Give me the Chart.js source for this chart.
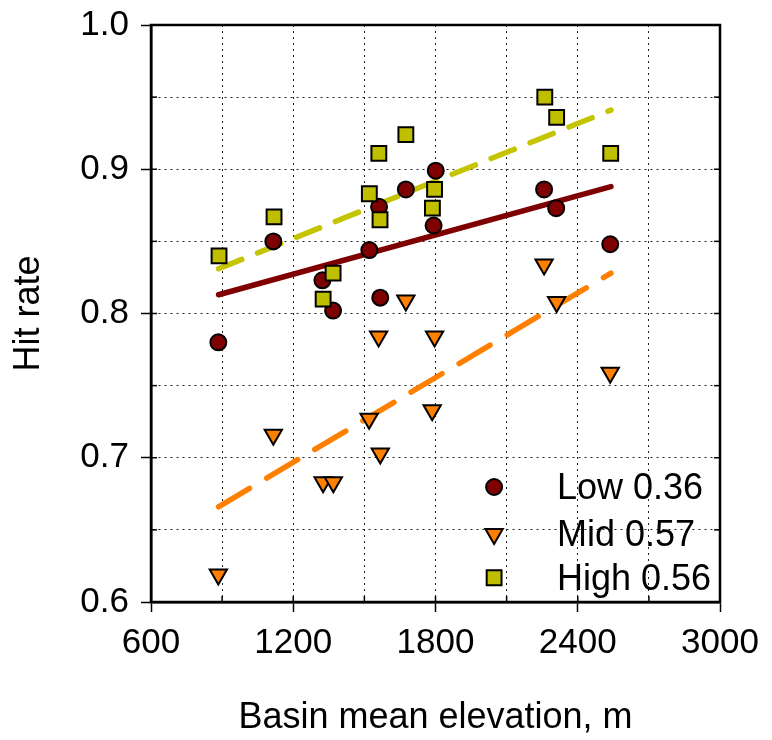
<!DOCTYPE html>
<html>
<head>
<meta charset="utf-8">
<script src="https://cdn.jsdelivr.net/npm/chart.js@4/dist/chart.umd.min.js"></script>
<style>
  body { margin: 0; background: #fff; }
  canvas { display: block; }
</style>
</head>
<body>
<canvas id="myChart" width="772" height="740"></canvas>
<script>
// Basin mean elevation (m) and hit rate for each group
var lowX  = [884, 1116, 1323, 1368, 1521, 1562, 1567, 1675, 1801, 1792, 2258, 2309, 2537];
var lowY  = [0.780, 0.850, 0.823, 0.802, 0.844, 0.874, 0.811, 0.886, 0.899, 0.861, 0.886, 0.873, 0.848];

var midX  = [884, 1116, 1326, 1369, 1520, 1560, 1567, 1675, 1796, 1786, 2258, 2311, 2537];
var midY  = [0.619, 0.716, 0.683, 0.683, 0.727, 0.784, 0.703, 0.809, 0.784, 0.733, 0.834, 0.808, 0.759];

var highX = [887, 1119, 1326, 1368, 1521, 1566, 1561, 1675, 1796, 1787, 2261, 2311, 2539];
var highY = [0.840, 0.867, 0.810, 0.828, 0.883, 0.865, 0.911, 0.924, 0.886, 0.873, 0.950, 0.936, 0.911];

// fitted lines, end points
var trendX     = [885, 2540];
var trendLowY  = [0.813, 0.888];
var trendMidY  = [0.666, 0.828];
var trendHighY = [0.831, 0.941];

var legendLabels = ['Low 0.36', 'Mid 0.57', 'High 0.56'];

var FONT = '"Liberation Sans", Arial, sans-serif';

function pts(xs, ys) {
  return xs.map(function (x, i) { return { x: x, y: ys[i] }; });
}

function isMajorX(v) { return Math.round(v) % 600 === 0; }
function isMajorY(v) { return Math.round(v * 100) % 10 === 0; }

var markerStyles = [
  { style: 'circle',   fill: '#7f0000', r: 8,    rot: 0 },
  { style: 'triangle', fill: '#ff8000', r: 10,   rot: 180 },
  { style: 'rect',     fill: '#bfbf00', r: 10.5, rot: 0 }
];

// frame, inner ticks and the legend inside the plot
var framePlugin = {
  id: 'frame',
  afterDraw: function (chart) {
    var c = chart.ctx, a = chart.chartArea;
    c.save();
    c.strokeStyle = '#000';
    c.lineWidth = 1.5;
    var xs = chart.scales.x, ys = chart.scales.y;
    xs.ticks.forEach(function (t) {
      var px = xs.getPixelForValue(t.value);
      c.beginPath(); c.moveTo(px, a.bottom); c.lineTo(px, a.bottom - 6); c.stroke();
    });
    ys.ticks.forEach(function (t) {
      var py = ys.getPixelForValue(t.value);
      c.beginPath(); c.moveTo(a.left, py); c.lineTo(a.left + 6, py); c.stroke();
      c.beginPath(); c.moveTo(a.right, py); c.lineTo(a.right - 6, py); c.stroke();
    });
    c.lineWidth = 2.5;
    c.strokeRect(a.left, a.top, a.right - a.left, a.bottom - a.top);

    // legend
    var w = a.right - a.left, h = a.bottom - a.top;
    var mx = a.left + 0.603 * w, tx = a.left + 0.7135 * w;
    var rows = [0.8007, 0.882, 0.958];
    c.font = '36px ' + FONT;
    c.textBaseline = 'middle';
    c.textAlign = 'left';
    legendLabels.forEach(function (lab, i) {
      var y = a.top + rows[i] * h;
      var m = markerStyles[i];
      c.fillStyle = m.fill;
      c.strokeStyle = '#000';
      c.lineWidth = 2;
      Chart.helpers.drawPoint(c, { pointStyle: m.style, radius: m.r, rotation: m.rot, borderWidth: 2 }, mx, y);
      c.fillStyle = '#000';
      c.fillText(lab, tx, y + 2);
    });
    c.restore();
  }
};

var ctx = document.getElementById('myChart').getContext('2d');
var myChart = new Chart(ctx, {
  type: 'scatter',
  data: {
    datasets: [
      {
        label: legendLabels[2],
        data: pts(highX, highY),
        pointStyle: 'rect',
        pointRadius: 10.5,
        backgroundColor: '#bfbf00',
        borderColor: '#000',
        borderWidth: 2,
        order: 0
      },
      {
        label: legendLabels[0],
        data: pts(lowX, lowY),
        pointStyle: 'circle',
        pointRadius: 8,
        backgroundColor: '#7f0000',
        borderColor: '#000',
        borderWidth: 2,
        order: 1
      },
      {
        label: legendLabels[1],
        data: pts(midX, midY),
        pointStyle: 'triangle',
        pointRotation: 180,
        pointRadius: 10,
        backgroundColor: '#ff8000',
        borderColor: '#000',
        borderWidth: 2,
        order: 2
      },
      {
        label: 'Low fit',
        data: pts(trendX, trendLowY),
        showLine: true,
        pointRadius: 0,
        borderColor: '#7f0000',
        borderWidth: 5.5,
        borderCapStyle: 'round',
        order: 5
      },
      {
        label: 'Mid fit',
        data: pts(trendX, trendMidY),
        showLine: true,
        pointRadius: 0,
        borderColor: '#ff8000',
        borderWidth: 5.5,
        borderCapStyle: 'round',
        borderDash: [36, 20],
        order: 5
      },
      {
        label: 'High fit',
        data: pts(trendX, trendHighY),
        showLine: true,
        pointRadius: 0,
        borderColor: '#c4c400',
        borderWidth: 5.5,
        borderCapStyle: 'round',
        borderDash: [25, 17],
        order: 5
      }
    ]
  },
  options: {
    responsive: false,
    animation: false,
    layout: { padding: { top: 25, right: 52, left: 0, bottom: 0 } },
    plugins: {
      legend: { display: false },
      tooltip: { enabled: false }
    },
    scales: {
      x: {
        type: 'linear',
        min: 600,
        max: 3000,
        afterFit: function (s) { s.height = 138; s.paddingLeft = 0; s.paddingRight = 0; },
        ticks: {
          stepSize: 300,
          autoSkip: false,
          maxRotation: 0,
          padding: 10,
          color: '#000',
          font: { family: FONT, size: 35 },
          callback: function (v) { return isMajorX(v) ? String(Math.round(v)) : ''; }
        },
        grid: {
          color: '#222',
          lineWidth: 1,
          tickLength: 10,
          tickWidth: 1.5,
          tickBorderDash: [],
          tickColor: function (c) { return c.tick && isMajorX(c.tick.value) ? '#000' : 'rgba(0,0,0,0)'; }
        },
        border: { display: true, color: '#000', width: 2.5, dash: [2, 4] },
        title: {
          display: true,
          text: 'Basin mean elevation, m',
          color: '#000',
          font: { family: FONT, size: 36 },
          padding: { top: 0, bottom: 0 }
        }
      },
      y: {
        type: 'linear',
        min: 0.6,
        max: 1.0,
        afterFit: function (s) { s.width = 151; s.paddingTop = 0; s.paddingBottom = 0; },
        ticks: {
          stepSize: 0.05,
          autoSkip: false,
          padding: 12,
          color: '#000',
          font: { family: FONT, size: 35 },
          callback: function (v) { return isMajorY(v) ? v.toFixed(1) : ''; }
        },
        grid: {
          color: '#222',
          lineWidth: 1,
          tickLength: 10,
          tickWidth: 1.5,
          tickBorderDash: [],
          tickColor: function (c) { return c.tick && isMajorY(c.tick.value) ? '#000' : 'rgba(0,0,0,0)'; }
        },
        border: { display: true, color: '#000', width: 2.5, dash: [2, 4] },
        title: {
          display: true,
          text: 'Hit rate',
          color: '#000',
          font: { family: FONT, size: 36 },
          padding: { top: 7, bottom: 0 }
        }
      }
    }
  },
  plugins: [framePlugin]
});
</script>
</body>
</html>
